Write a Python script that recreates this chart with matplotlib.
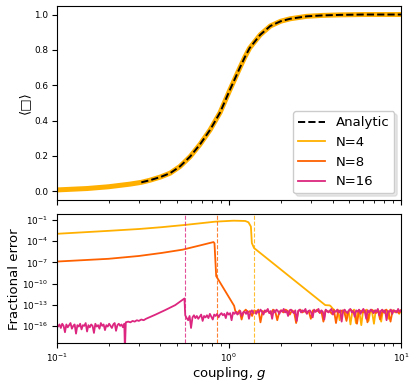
import numpy as np
import matplotlib
matplotlib.use('Agg')
import matplotlib.pyplot as plt
from matplotlib.ticker import NullLocator, NullFormatter

# colours for the three system sizes
c4, c8, c16 = '#FFB000', '#FE6100', '#DC267F'

# top panel: expectation value vs coupling
top_g = [0.1, 0.15, 0.2, 0.267, 0.31, 0.348, 0.4, 0.456, 0.52, 0.596, 0.68,
         0.778, 0.889, 1.01, 1.16, 1.24, 1.32, 1.52, 1.74, 2.0, 2.27, 2.84,
         3.5, 4.43, 6.0, 10.0]
top_val = [0.007, 0.015, 0.025, 0.04, 0.05, 0.062, 0.08, 0.102, 0.14, 0.196,
           0.265, 0.347, 0.445, 0.57, 0.70, 0.76, 0.81, 0.885, 0.935, 0.962,
           0.976, 0.99, 0.995, 0.998, 1.0, 1.0]
analytic_from = 0.31

# bottom panel: log10 of fractional error, smooth parts (g, log10 err)
n4_g = [0.1, 0.2, 0.3, 0.407, 0.557, 0.681, 0.832, 1.064, 1.245, 1.30, 1.343,
        1.36, 1.40, 3.63, 3.85]
n4_err = [-2.96, -2.54, -2.28, -2.02, -1.70, -1.47, -1.24, -1.10, -1.14, -1.33,
          -1.94, -4.27, -4.97, -13.06, -13.1]
n8_g = [0.1, 0.2, 0.3, 0.407, 0.54, 0.681, 0.814, 0.825, 0.844, 1.073]
n8_err = [-6.89, -6.5, -6.1, -5.67, -5.2, -4.6, -4.13, -4.3, -8.95, -13.16]
n16_g = [0.249, 0.252, 0.26, 0.268, 0.276, 0.284, 0.292, 0.30, 0.31, 0.32,
         0.33, 0.373, 0.427, 0.488, 0.552]
n16_err = [-19.5, -15.5, -15.4, -15.5, -15.3, -15.4, -15.2, -15.3, -15.1,
           -15.2, -15.0, -14.43, -13.76, -13.06, -12.12]

# noise floor readings (log10 err), evenly spaced in log g over each range
n16_lo_range = (0.1, 0.247)
n16_lo = [-15.9, -16.1, -15.8, -16.3, -15.7, -16.0, -16.9, -15.8, -16.2, -15.9,
          -15.6, -16.4, -16.0, -15.8, -17.1, -15.9, -16.1, -15.7, -16.5, -15.9,
          -16.0, -15.6, -16.8, -15.9, -16.2, -15.8, -16.0, -17.0, -15.7, -16.1,
          -15.9, -16.4, -15.6, -16.0, -15.8, -16.6, -15.9, -16.1, -15.7, -16.0,
          -16.3, -15.8, -15.6, -16.7, -15.9, -15.7, -16.0, -15.8, -16.2, -15.7]
n16_hi_range = (0.558, 10.0)
n16_hi = [-14.5, -14.9, -15.2, -14.6, -16.3, -14.8, -14.5, -14.9, -14.6, -15.0,
          -14.7, -14.4, -15.3, -14.6, -14.8, -14.5, -14.9, -14.3, -14.7, -15.1,
          -14.4, -14.6, -14.3, -14.8, -14.4,
          -14.2, -14.5, -14.3, -14.9, -14.1, -14.4, -14.2, -15.2, -14.1, -14.3,
          -14.0, -14.4, -14.2, -13.9, -14.6, -14.1, -14.0, -14.3, -13.9, -15.0,
          -14.1, -13.8, -14.2, -14.0, -14.3,
          -13.9, -14.1, -13.7, -14.0, -14.4, -13.8, -14.0, -13.6, -14.2, -13.9,
          -15.0, -13.8, -14.1, -13.7, -13.9, -14.3, -13.8, -14.0, -13.6, -14.1,
          -13.9, -14.6, -13.8, -13.7, -14.0, -14.2, -13.8, -15.3, -13.9, -13.7,
          -14.1, -13.8, -14.0, -13.6, -14.3, -13.9, -13.8, -14.1, -14.8, -13.7,
          -14.0, -13.9, -13.6, -14.2, -13.8, -14.0, -15.1, -13.7, -13.9, -14.1,
          -13.8, -13.6, -14.4, -13.9, -14.0, -13.7, -14.1, -13.8, -15.4, -13.9,
          -13.7, -14.0, -14.2, -13.8, -13.6, -14.1, -13.9, -14.7, -13.8, -14.0,
          -13.7, -14.3, -13.9, -13.6, -14.0, -15.0, -13.8, -14.1, -13.7, -13.9,
          -14.2, -13.8, -14.0, -13.6, -14.5, -13.9, -13.7, -14.1, -13.8, -15.2,
          -13.9, -14.0, -13.7, -14.3, -13.8, -13.9, -14.1, -13.6, -14.0, -13.8]
n8_noise_range = (1.09, 10.0)
n8_noise = [-13.9, -14.2, -13.8, -15.1, -14.0, -13.7, -14.1, -13.9, -14.6, -13.8,
            -14.0, -13.7, -15.5, -13.9, -14.1, -13.8, -14.0, -14.3, -13.7, -13.9,
            -15.2, -14.0, -13.8, -14.1, -13.7, -13.9, -14.4, -13.8, -14.0, -15.6,
            -13.9, -13.7, -14.1, -13.8, -14.2, -13.9, -15.0, -13.8, -14.0, -13.7,
            -14.1, -13.9, -15.4, -13.8, -14.0, -13.9, -14.3, -13.7, -15.6, -13.9,
            -14.0, -13.8, -14.1, -15.3, -13.9, -13.7, -14.0, -14.2, -15.7, -13.8,
            -13.9, -14.1, -13.8, -15.5, -14.0, -13.7, -13.9, -14.2, -13.8, -15.1,
            -14.0, -13.9, -13.7, -14.1, -15.4, -13.8, -14.0, -13.9, -14.2, -13.8]
n4_noise_range = (3.9, 10.0)
n4_noise = [-13.2, -13.5, -13.8, -14.0, -13.7, -15.2, -13.9, -14.1, -13.8, -14.6,
            -13.9, -15.8, -14.0, -13.7, -15.6, -13.9, -14.2, -15.9, -13.8, -14.0,
            -13.7, -15.3, -13.9, -14.1, -15.7, -13.8, -14.0, -13.9, -15.4, -13.8,
            -14.2, -13.9, -15.0, -13.7, -14.0, -13.8, -14.1, -13.9, -14.3, -13.8]

# critical couplings (dashed markers)
gc = {4: 1.40, 8: 0.848, 16: 0.556}


def series(parts):
    # parts: list of (g list, log10 err list) joined in order
    g = np.concatenate([np.asarray(p[0], float) for p in parts])
    e = np.concatenate([np.asarray(p[1], float) for p in parts])
    return g, 10.0 ** e


def grid(rng, vals):
    return np.geomspace(rng[0], rng[1], len(vals)), vals


fig = plt.figure(figsize=(4.16, 3.85), dpi=100)
ax1 = fig.add_axes([0.1363, 0.4805, 0.8277, 0.5047])
ax2 = fig.add_axes([0.1363, 0.1083, 0.8277, 0.335], sharex=ax1)

tg = np.array(top_g)
tv = np.array(top_val)
ax1.plot(tg, tv, color=c4, lw=3.6, label='_nolegend_')
mask = tg >= analytic_from
ax1.plot(tg[mask], tv[mask], 'k--', lw=1.4, label='Analytic')
ax1.plot([], [], color=c4, lw=1.3, label='N=4')
ax1.plot([], [], color=c8, lw=1.3, label='N=8')
ax1.plot([], [], color=c16, lw=1.3, label='N=16')
ax1.set_xscale('log')
ax1.set_xlim(0.1, 10)
ax1.set_ylim(-0.05, 1.05)
ax1.set_yticks([0.0, 0.2, 0.4, 0.6, 0.8, 1.0])
ax1.set_ylabel('⟨□⟩', fontsize=9.5, labelpad=2)
ax1.tick_params(labelbottom=False, labelsize=6.4, pad=2.5)
ax1.legend(loc='lower right', fontsize=9.5,
           shadow={'alpha': 0.12, 'ox': 2, 'oy': -2})

g4, e4 = series([(n4_g, n4_err), grid(n4_noise_range, n4_noise)])
g8, e8 = series([(n8_g, n8_err), grid(n8_noise_range, n8_noise)])
g16, e16 = series([grid(n16_lo_range, n16_lo), (n16_g, n16_err),
                   grid(n16_hi_range, n16_hi)])
ax2.plot(g4, e4, color=c4, lw=1.3)
ax2.plot(g8, e8, color=c8, lw=1.3)
ax2.plot(g16, e16, color=c16, lw=1.3)
for n, col in [(4, c4), (8, c8), (16, c16)]:
    ax2.axvline(gc[n], color=col, ls='--', lw=0.8, alpha=0.8)
ax2.set_yscale('log')
ax2.set_ylim(10 ** -18.47, 10 ** -0.2)
ax2.set_yticks([1e-1, 1e-4, 1e-7, 1e-10, 1e-13, 1e-16])
ax2.yaxis.set_minor_locator(NullLocator())
ax2.yaxis.set_minor_formatter(NullFormatter())
ax2.tick_params(labelsize=6.4, pad=2.5)
ax2.set_ylabel('Fractional error', fontsize=9.5, labelpad=1)
ax2.set_xlabel('coupling, $g$', fontsize=9.5, labelpad=1)

fig.savefig('out.png', dpi=100)
